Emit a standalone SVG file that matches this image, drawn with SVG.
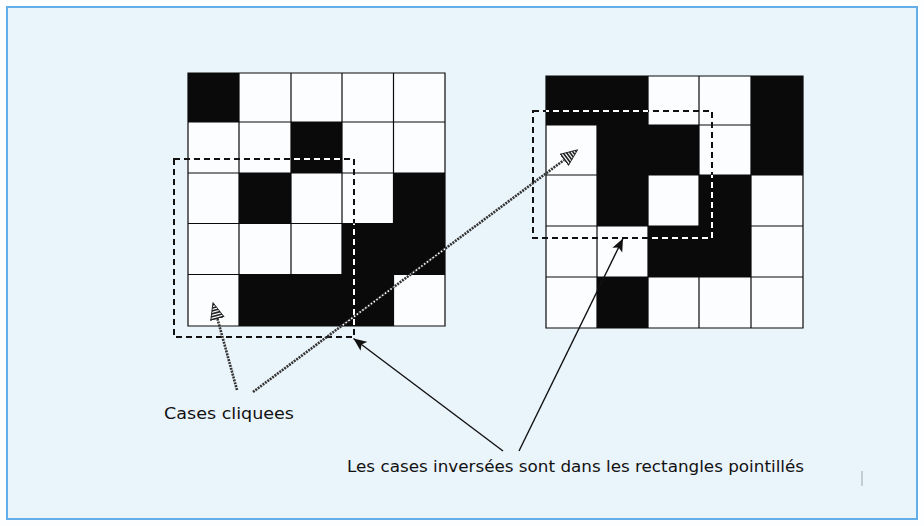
<svg xmlns="http://www.w3.org/2000/svg" width="924" height="526" viewBox="0 0 924 526">
<style>
.cell{fill:#fbfdfe}
.blk{fill:#0a0a0a}
.grid{fill:none;stroke:#0a0a0a;stroke-width:1.2}
.sel{fill:none;stroke:#111;stroke-width:2;stroke-dasharray:6 4}
.selx{fill:none;stroke:#fff;stroke-width:2;stroke-dasharray:6 4}
.tex{fill:none;stroke:#333;stroke-width:2.6;stroke-dasharray:2 1}
.texx{fill:none;stroke:#fff;stroke-width:1.6;stroke-dasharray:1.5 2}
.ptr{fill:none;stroke:#111;stroke-width:1.4}
.lbl{font-family:"DejaVu Sans","Liberation Sans",sans-serif;font-size:16px;fill:#111}
</style>
<defs>
<marker id="hatch" markerUnits="userSpaceOnUse" markerWidth="20" markerHeight="16" refX="0" refY="8" orient="auto" viewBox="0 0 20 16">
<g stroke="#222" stroke-width="1.6">
<line x1="0.8" y1="1" x2="0.8" y2="15"/>
<line x1="3.6" y1="2.2" x2="3.6" y2="13.8"/>
<line x1="6.4" y1="3.5" x2="6.4" y2="12.5"/>
<line x1="9.2" y1="4.8" x2="9.2" y2="11.2"/>
<line x1="12" y1="6" x2="12" y2="10"/>
<line x1="14.8" y1="7.2" x2="14.8" y2="8.8"/>
</g>
<path d="M0,1 L17,8 L0,15" fill="none" stroke="#222" stroke-width="0.9"/>
</marker>
<marker id="solid" markerUnits="userSpaceOnUse" markerWidth="14" markerHeight="12" refX="13" refY="6" orient="auto" viewBox="0 0 14 12">
<path d="M0,0.5 L13,6 L0,11.5 L3,6 Z" fill="#111"/>
</marker>
<clipPath id="blacks">
<rect x="188" y="73" width="51" height="49"/>
<rect x="291" y="122" width="51" height="51"/>
<rect x="239" y="173" width="52" height="50.5"/>
<rect x="393.5" y="173" width="51.5" height="50.5"/>
<rect x="342" y="223.5" width="51.5" height="51"/>
<rect x="393.5" y="223.5" width="51.5" height="51"/>
<rect x="239" y="274.5" width="154.5" height="51.5"/>
<rect x="546" y="76" width="102" height="49"/>
<rect x="751" y="76" width="52" height="49"/>
<rect x="597" y="125" width="102" height="50"/>
<rect x="751" y="125" width="52" height="50"/>
<rect x="597" y="175" width="51" height="51"/>
<rect x="699" y="175" width="52" height="51"/>
<rect x="648" y="226" width="103" height="51"/>
<rect x="597" y="277" width="51" height="51"/>
</clipPath>
</defs>

<g id="frame">
<rect x="0" y="0" width="924" height="526" fill="#fdfeff"/>
<rect x="7" y="7" width="910" height="512" fill="#eaf4fb" stroke="#63ade8" stroke-width="2"/>
<line x1="862" y1="471" x2="862" y2="486" stroke="#9aa6ae" stroke-width="1"/>
</g>

<g id="grid-left">
<rect class="cell" x="188" y="73" width="257" height="253"/>
<path class="grid" d="M188,73H445V326H188Z M239,73V326 M291,73V326 M342,73V326 M393.5,73V326 M188,122H445 M188,173H445 M188,223.5H445 M188,274.5H445"/>
<rect class="blk" x="188" y="73" width="51" height="49"/>
<rect class="blk" x="291" y="122" width="51" height="51"/>
<rect class="blk" x="239" y="173" width="52" height="50.5"/>
<rect class="blk" x="393.5" y="173" width="51.5" height="50.5"/>
<rect class="blk" x="342" y="223.5" width="51.5" height="51"/>
<rect class="blk" x="393.5" y="223.5" width="51.5" height="51"/>
<rect class="blk" x="239" y="274.5" width="154.5" height="51.5"/>
</g>

<g id="grid-right">
<rect class="cell" x="546" y="76" width="257" height="252"/>
<path class="grid" d="M546,76H803V328H546Z M597,76V328 M648,76V328 M699,76V328 M751,76V328 M546,125H803 M546,175H803 M546,226H803 M546,277H803"/>
<rect class="blk" x="546" y="76" width="102" height="49"/>
<rect class="blk" x="751" y="76" width="52" height="49"/>
<rect class="blk" x="597" y="125" width="102" height="50"/>
<rect class="blk" x="751" y="125" width="52" height="50"/>
<rect class="blk" x="597" y="175" width="51" height="51"/>
<rect class="blk" x="699" y="175" width="52" height="51"/>
<rect class="blk" x="648" y="226" width="103" height="51"/>
<rect class="blk" x="597" y="277" width="51" height="51"/>
</g>

<g id="selection-left">
<rect class="sel" x="174" y="159" width="180" height="178"/>
<rect class="selx" x="174" y="159" width="180" height="178" clip-path="url(#blacks)"/>
</g>

<g id="selection-right">
<rect class="sel" x="533" y="111" width="179" height="127"/>
<rect class="selx" x="533" y="111" width="179" height="127" clip-path="url(#blacks)"/>
</g>

<g id="connectors">
<line class="tex" x1="237" y1="390" x2="217.5" y2="319" marker-end="url(#hatch)"/>
<line class="tex" x1="253" y1="392" x2="564" y2="160" marker-end="url(#hatch)"/>
<line class="texx" x1="253" y1="392" x2="564" y2="160" clip-path="url(#blacks)"/>
<line class="ptr" x1="503" y1="451" x2="353.5" y2="338.5" marker-end="url(#solid)"/>
<line class="ptr" x1="519" y1="451" x2="623" y2="238.5" marker-end="url(#solid)"/>
</g>

<g id="labels">
<text class="lbl" x="164" y="419" textLength="130" lengthAdjust="spacingAndGlyphs">Cases cliquees</text>
<text class="lbl" x="347" y="472" textLength="457" lengthAdjust="spacingAndGlyphs">Les cases inversées sont dans les rectangles pointillés</text>
</g>
</svg>
